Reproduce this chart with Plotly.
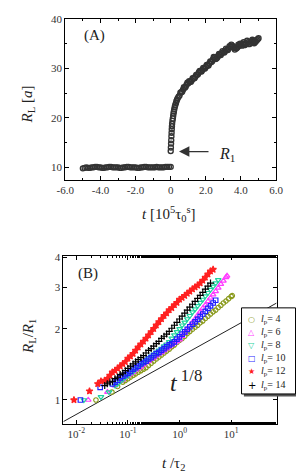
import plotly.graph_objects as go

# ---------------- Panel A data ----------------
tA_flat = [-5.0, -4.9, -4.8, -4.7, -4.6, -4.5, -4.4, -4.3, -4.2, -4.1, -4.0, -3.9, -3.8, -3.7,
           -3.6, -3.5, -3.4, -3.3, -3.2, -3.1, -3.0, -2.9, -2.8, -2.7, -2.6, -2.5, -2.4, -2.3,
           -2.2, -2.1, -2.0, -1.9, -1.8, -1.7, -1.6, -1.5, -1.4, -1.3, -1.2, -1.1, -1.0, -0.9,
           -0.8, -0.7, -0.6, -0.5, -0.4, -0.3, -0.2, -0.1, 0.0]
RA_flat = [9.8, 9.9, 10.0, 9.9, 9.9, 10.0, 10.0, 10.1, 10.1, 10.0, 10.0, 9.9, 9.9, 10.0,
           10.0, 10.1, 10.1, 10.0, 10.0, 10.0, 10.0, 9.9, 9.9, 10.0, 10.0, 10.1, 10.1, 10.0,
           10.0, 10.0, 10.0, 9.9, 9.9, 10.0, 10.0, 10.1, 10.1, 10.0, 10.0, 10.0, 10.0, 10.0,
           10.1, 10.0, 10.0, 10.0, 10.0, 10.1, 10.1, 10.1, 10.1]
A_grow_points = [
    (0.0, 13.3), (0.01, 14.0), (0.02, 14.8), (0.03, 15.5), (0.04, 16.3), (0.05, 17.0),
    (0.06, 17.7), (0.07, 18.3), (0.08, 18.8), (0.10, 19.4), (0.12, 19.9), (0.14, 20.4),
    (0.16, 20.9), (0.18, 21.3), (0.2, 21.7), (0.23, 22.2), (0.26, 22.6), (0.3, 23.0),
    (0.33, 23.4), (0.36, 23.7), (0.4, 24.0), (0.45, 24.3),
    (0.5, 24.5), (0.55, 25.1), (0.6, 25.2), (0.65, 25.3), (0.7, 25.7), (0.75, 26.2),
    (0.8, 26.1), (0.85, 26.3), (0.9, 26.7), (0.95, 27.1), (1.0, 27.0), (1.05, 27.4),
    (1.1, 27.3), (1.15, 27.3), (1.2, 27.6), (1.25, 28.0), (1.3, 28.0), (1.35, 28.0),
    (1.4, 28.3), (1.45, 28.7), (1.5, 28.7), (1.55, 28.8), (1.6, 29.2), (1.65, 29.5),
    (1.7, 29.4), (1.75, 29.4), (1.8, 29.7), (1.85, 30.1), (1.9, 30.0), (1.95, 30.0),
    (2.0, 30.3), (2.05, 30.7), (2.1, 30.6), (2.15, 30.6), (2.2, 31.0), (2.25, 31.4),
    (2.3, 31.3), (2.35, 31.4), (2.4, 31.8), (2.45, 32.3), (2.5, 32.2), (2.55, 31.9),
    (2.6, 32.0), (2.65, 32.2), (2.7, 32.5), (2.75, 32.9), (2.8, 32.8), (2.85, 32.7),
    (2.9, 33.1), (2.95, 33.5), (3.0, 33.3), (3.05, 33.2), (3.1, 33.5), (3.15, 34.0),
    (3.2, 33.8), (3.25, 33.7), (3.3, 34.0), (3.35, 34.5), (3.4, 34.4), (3.45, 34.8),
    (3.5, 34.6), (3.55, 34.4), (3.6, 34.2), (3.65, 33.8), (3.7, 34.0), (3.75, 34.1),
    (3.8, 34.3), (3.85, 34.8), (3.9, 34.6), (3.95, 35.0), (4.0, 34.9), (4.05, 34.6),
    (4.1, 35.0), (4.15, 35.3), (4.2, 34.7), (4.25, 34.9), (4.3, 35.1), (4.35, 35.6),
    (4.4, 35.3), (4.45, 34.9), (4.5, 35.0), (4.55, 35.2), (4.6, 35.4), (4.65, 35.8),
    (4.7, 35.6), (4.75, 35.1), (4.8, 35.3), (4.85, 35.5), (4.9, 35.7), (4.95, 35.9),
    (5.0, 36.1),
]
tA_grow = [p[0] for p in A_grow_points]
RA_grow = [p[1] for p in A_grow_points]

# ---------------- Panel B data ----------------
lp_labels = ["4", "6", "8", "10", "12", "14"]

t_lp4 = [0.024, 0.049, 0.063, 0.0794, 0.0891, 0.1, 0.112, 0.126, 0.141, 0.158, 0.178, 0.2,
         0.224, 0.251, 0.282, 0.316, 0.355, 0.398, 0.447, 0.501, 0.562, 0.631, 0.708, 0.794,
         0.891, 1.0, 1.12, 1.26, 1.41, 1.58, 1.78, 2.0, 2.24, 2.51, 2.82, 3.16, 3.55, 3.98,
         4.47, 5.01, 5.62, 6.31, 7.08, 7.94, 8.91, 10.0, 10.5]
R_lp4 = [1.00, 1.08, 1.14, 1.19, 1.21, 1.23, 1.25, 1.27, 1.29, 1.31, 1.33, 1.35,
         1.37, 1.40, 1.43, 1.46, 1.49, 1.52, 1.55, 1.58, 1.61, 1.64, 1.68, 1.71,
         1.75, 1.79, 1.82, 1.86, 1.91, 1.95, 1.99, 2.03, 2.07, 2.12, 2.16, 2.21, 2.26, 2.31,
         2.36, 2.40, 2.46, 2.51, 2.57, 2.62, 2.68, 2.74, 2.76]

t_lp6 = [0.017, 0.040, 0.056, 0.0708, 0.0794, 0.0891, 0.1, 0.112, 0.126, 0.141, 0.158, 0.178,
         0.2, 0.224, 0.251, 0.282, 0.316, 0.355, 0.398, 0.447, 0.501, 0.562, 0.631, 0.708,
         0.794, 0.891, 1.0, 1.12, 1.26, 1.41, 1.58, 1.78, 2.0, 2.24, 2.51, 2.82, 3.16, 3.55,
         3.98, 4.47, 5.01, 5.62, 6.31, 7.08, 7.94, 8.32]
R_lp6 = [1.00, 1.08, 1.15, 1.20, 1.22, 1.25, 1.27, 1.29, 1.31, 1.34, 1.36, 1.38,
         1.41, 1.44, 1.46, 1.49, 1.51, 1.54, 1.57, 1.59, 1.62, 1.65, 1.68, 1.71,
         1.74, 1.77, 1.80, 1.86, 1.92, 1.99, 2.06, 2.13, 2.20, 2.28, 2.36, 2.44, 2.52, 2.61,
         2.70, 2.79, 2.88, 2.98, 3.09, 3.19, 3.30, 3.35]

t_lp8 = [0.014, 0.030, 0.043, 0.0562, 0.0631, 0.0708, 0.0794, 0.0891, 0.1, 0.112, 0.126,
         0.141, 0.158, 0.178, 0.2, 0.224, 0.251, 0.282, 0.316, 0.355, 0.398, 0.447, 0.501,
         0.562, 0.631, 0.708, 0.794, 0.891, 1.0, 1.12, 1.26, 1.41, 1.58, 1.78, 2.0, 2.24,
         2.51, 2.82, 3.16, 3.55, 3.98, 4.47, 5.01, 5.62]
R_lp8 = [1.00, 1.03, 1.08, 1.15, 1.17, 1.20, 1.22, 1.25, 1.27, 1.30, 1.32,
         1.35, 1.38, 1.41, 1.44, 1.47, 1.50, 1.53, 1.56, 1.59, 1.62, 1.65, 1.69,
         1.72, 1.76, 1.82, 1.88, 1.94, 2.00, 2.07, 2.13, 2.20, 2.27, 2.35, 2.42, 2.50,
         2.58, 2.66, 2.75, 2.84, 2.93, 3.02, 3.12, 3.22]

t_lp10 = [0.012, 0.029, 0.0501, 0.0562, 0.0631, 0.0708, 0.0794, 0.0891, 0.1, 0.112, 0.126,
          0.141, 0.158, 0.178, 0.2, 0.224, 0.251, 0.282, 0.316, 0.355, 0.398, 0.447, 0.501,
          0.562, 0.631, 0.708, 0.794, 0.891, 1.0, 1.12, 1.26, 1.41, 1.58, 1.78, 2.0, 2.24,
          2.51, 2.82, 3.16, 3.55, 3.98, 4.47, 5.01]
R_lp10 = [1.00, 1.13, 1.17, 1.19, 1.21, 1.24, 1.26, 1.28, 1.30, 1.32, 1.35,
          1.37, 1.39, 1.42, 1.44, 1.46, 1.49, 1.51, 1.54, 1.57, 1.59, 1.62, 1.65,
          1.68, 1.71, 1.73, 1.76, 1.81, 1.85, 1.90, 1.94, 1.99, 2.04, 2.09, 2.14, 2.19,
          2.25, 2.31, 2.37, 2.44, 2.50, 2.57, 2.64]

t_lp12 = [0.009, 0.018, 0.026, 0.030, 0.0355, 0.0398, 0.0447, 0.0501, 0.0562, 0.0631, 0.0708,
          0.0794, 0.0891, 0.1, 0.112, 0.126, 0.141, 0.158, 0.178, 0.2, 0.224, 0.251, 0.282,
          0.316, 0.355, 0.398, 0.447, 0.501, 0.562, 0.631, 0.708, 0.794, 0.891, 1.0, 1.12,
          1.26, 1.41, 1.58, 1.78, 2.0, 2.24, 2.51, 2.82, 3.16, 3.55, 3.98, 4.47]
R_lp12 = [1.00, 1.09, 1.17, 1.20, 1.21, 1.23, 1.27, 1.31, 1.33, 1.36, 1.39,
          1.42, 1.45, 1.50, 1.53, 1.57, 1.62, 1.67, 1.72, 1.77, 1.82, 1.88, 1.94,
          2.00, 2.07, 2.14, 2.20, 2.27, 2.33, 2.40, 2.45, 2.52, 2.58, 2.66, 2.71,
          2.76, 2.82, 2.88, 2.94, 3.00, 3.05, 3.12, 3.20, 3.30, 3.40, 3.50, 3.56]

t_lp14 = [0.0355, 0.0398, 0.0447, 0.0501, 0.0562, 0.0631, 0.0708, 0.0794, 0.0891, 0.1, 0.112,
          0.126, 0.141, 0.158, 0.178, 0.2, 0.224, 0.251, 0.282, 0.316, 0.355, 0.398, 0.447,
          0.501, 0.562, 0.631, 0.708, 0.794, 0.891, 1.0, 1.12, 1.26, 1.41, 1.58, 1.78, 2.0,
          2.24, 2.51, 2.82, 3.16, 3.55, 3.98]
R_lp14 = [1.15, 1.17, 1.19, 1.20, 1.23, 1.25, 1.28, 1.30, 1.33, 1.36, 1.39,
          1.42, 1.45, 1.48, 1.51, 1.54, 1.58, 1.62, 1.65, 1.69, 1.73, 1.77, 1.82,
          1.86, 1.90, 1.95, 2.01, 2.07, 2.13, 2.20, 2.26, 2.33, 2.40, 2.47, 2.54, 2.61,
          2.69, 2.77, 2.85, 2.94, 3.03, 3.12]

guide_t = [0.0056, 76.0]
guide_R = [0.81, 2.57]

series_t = [t_lp4, t_lp6, t_lp8, t_lp10, t_lp12, t_lp14]
series_R = [R_lp4, R_lp6, R_lp8, R_lp10, R_lp12, R_lp14]
colors = ["#8a9a1c", "#ff3cff", "#1fd2a0", "#1f1fff", "#ff2020", "#000000"]
symbols = ["circle-open", "triangle-up-open", "triangle-down-open", "square-open", "star", "cross-thin"]
key_glyphs = ["○", "△", "▽", "□", "★", "+"]
sizes = [4.5, 5, 5, 4.5, 5, 5]

FONT = "Liberation Serif"
W, H = 304, 475

fig = go.Figure()

# Panel A
markA = dict(symbol="circle-open", size=5, color="#333333", line=dict(width=1.4, color="#333333"))
fig.add_trace(go.Scatter(x=tA_flat, y=RA_flat, mode="markers", xaxis="x", yaxis="y",
                         marker=markA, showlegend=False))
fig.add_trace(go.Scatter(x=tA_grow, y=RA_grow, mode="markers", xaxis="x", yaxis="y",
                         marker=markA, showlegend=False))

# Panel B guide line
fig.add_trace(go.Scatter(x=guide_t, y=guide_R, mode="lines", xaxis="x2", yaxis="y2",
                         line=dict(color="#222222", width=1), showlegend=False))

for lab, tt, rr, c, s, sz in zip(lp_labels, series_t, series_R, colors, symbols, sizes):
    fig.add_trace(go.Scatter(
        x=tt, y=rr, mode="markers", xaxis="x2", yaxis="y2",
        name="l_p = " + lab, showlegend=False,
        marker=dict(symbol=s, size=sz, color=c, line=dict(width=1.2, color=c)),
    ))

axis_common = dict(showline=True, linecolor="black", linewidth=1, mirror="allticks",
                   ticks="inside", ticklen=4, tickcolor="black", showgrid=False,
                   zeroline=False, tickfont=dict(family=FONT, size=11, color="#333333"))

fig.update_layout(
    width=W, height=H, margin=dict(l=0, r=0, t=0, b=0),
    paper_bgcolor="white", plot_bgcolor="white", showlegend=False,
    font=dict(family=FONT, color="#222222"),
    xaxis=dict(domain=[51 / W, 273.5 / W], anchor="y", range=[-6, 6],
               tickvals=[-6, -4, -2, 0, 2, 4, 6],
               ticktext=["-6.0", "-4.0", "-2.0", "0", "2.0", "4.0", "6.0"],
               minor=dict(ticks="inside", ticklen=2, dtick=1, tickcolor="black"),
               **axis_common),
    yaxis=dict(domain=[1 - 169 / H, 1 - 6 / H], anchor="x", range=[7.4, 40],
               tickvals=[10, 20, 30, 40],
               minor=dict(ticks="inside", ticklen=2, dtick=5, tick0=0, tickcolor="black"),
               **axis_common),
    xaxis2=dict(domain=[49 / W, 274 / W], anchor="y2", type="log", range=[-2.25, 1.88],
                tickvals=[0.01, 0.1, 1, 10],
                ticktext=["10<sup>-2</sup>", "10<sup>-1</sup>", "10<sup>0</sup>", "10<sup>1</sup>"],
                minor=dict(ticks="inside", ticklen=2, tickcolor="black"),
                **axis_common),
    yaxis2=dict(domain=[1 - 415 / H, 1 - 246 / H], anchor="x2", type="log", range=[-0.10, 0.607],
                tickvals=[1, 2, 3, 4], ticktext=["1", "2", "3", "4"],
                **axis_common),
)

# legend box (with drop shadow), drawn above the plot
LX0, LX1, LY0, LY1 = 237, 294, 298, 385
shapes = [
    dict(type="rect", xref="paper", yref="paper", layer="above",
         x0=(LX0 + 2.5) / W, x1=(LX1 + 2.5) / W, y0=1 - (LY1 + 2.5) / H, y1=1 - (LY0 + 2.5) / H,
         fillcolor="#555555", line=dict(width=0)),
    dict(type="rect", xref="paper", yref="paper", layer="above",
         x0=LX0 / W, x1=LX1 / W, y0=1 - LY1 / H, y1=1 - LY0 / H,
         fillcolor="white", line=dict(color="black", width=1)),
]
fig.update_layout(shapes=shapes)

ann = [
    dict(x=82 / W, y=1 - 23 / H, text="(A)", font=dict(size=15)),
    dict(x=12 / W, y=1 - 92 / H, text="<i>R</i><sub>L</sub> [<i>a</i>]", textangle=-90, font=dict(size=15)),
    dict(x=160 / W, y=1 - 203 / H, text="<i>t</i> [10<sup>5</sup>τ<sub>0</sub><sup>s</sup>]", font=dict(size=15)),
    dict(x=222 / W, y=1 - 143 / H, text="<i>R</i><sub>1</sub>", font=dict(size=16)),
    dict(x=75 / W, y=1 - 263 / H, text="(B)", font=dict(size=15)),
    dict(x=12 / W, y=1 - 327 / H, text="<i>R</i><sub>L</sub>/<i>R</i><sub>1</sub>", textangle=-90, font=dict(size=15)),
    dict(x=165 / W, y=1 - 456 / H, text="<i>t</i> /τ<sub>2</sub>", font=dict(size=15)),
    dict(x=178 / W, y=1 - 372 / H, text="<i>t</i><sup> 1/8</sup>", font=dict(size=24)),
]
for a in ann:
    a.update(xref="paper", yref="paper", showarrow=False, xanchor="center", yanchor="middle")
    a["font"].update(family=FONT, color="#222222")

# legend entries (key glyph + label) for each series
row0, row_step = LY0 + 12, 13.2
for i, (lab, c, g) in enumerate(zip(lp_labels, colors, key_glyphs)):
    yy = 1 - (row0 + i * row_step) / H
    ann.append(dict(x=(LX0 + 11) / W, y=yy, text=g, xref="paper", yref="paper",
                    showarrow=False, xanchor="center", yanchor="middle",
                    font=dict(family="DejaVu Sans", size=8 if g != "+" else 10, color=c)))
    ann.append(dict(x=(LX0 + 18) / W, y=yy, text="<i>l</i><sub>p</sub>= " + lab,
                    xref="paper", yref="paper", showarrow=False, xanchor="left", yanchor="middle",
                    font=dict(family=FONT, size=10, color="#222222")))
fig.update_layout(annotations=ann)

# arrow pointing at R1
fig.add_annotation(xref="paper", yref="paper", x=171 / W, y=1 - 140 / H,
                   axref="pixel", ayref="pixel", ax=31, ay=0, text="",
                   showarrow=True, arrowhead=2, arrowsize=1.6, arrowwidth=1.3, arrowcolor="#333333")

fig.write_html("out.html")
